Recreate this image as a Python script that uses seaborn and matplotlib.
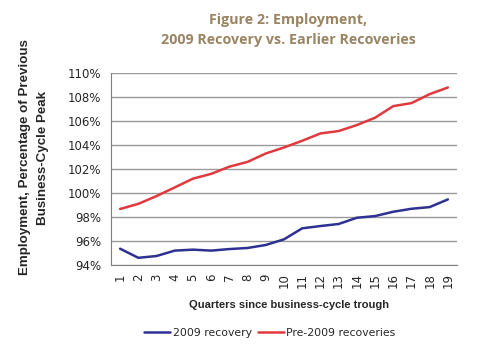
import matplotlib
matplotlib.use("Agg")
import matplotlib.pyplot as plt
import seaborn as sns
import pandas as pd

quarters = list(range(1, 20))
recovery_2009 = [95.36, 94.60, 94.75, 95.20, 95.28, 95.20, 95.33, 95.42, 95.67, 96.14,
                 97.06, 97.25, 97.42, 97.94, 98.08, 98.44, 98.69, 98.83, 99.47]
pre_2009 = [98.67, 99.10, 99.75, 100.47, 101.20, 101.60, 102.20, 102.60, 103.30, 103.80,
            104.36, 104.97, 105.17, 105.67, 106.28, 107.25, 107.50, 108.25, 108.80]
series_names = ["2009 recovery", "Pre-2009 recoveries"]
y_ticks = [94, 96, 98, 100, 102, 104, 106, 108, 110]

df = pd.DataFrame({
    "quarter": quarters * 2,
    "value": recovery_2009 + pre_2009,
    "series": [series_names[0]] * len(quarters) + [series_names[1]] * len(quarters),
})
# position on a categorical axis (0..18)
df["pos"] = df["quarter"] - 1

sns.set_style("white")
plt.rcParams["font.family"] = ["DejaVu Sans"]

fig = plt.figure(figsize=(5, 3.55), dpi=100)
ax = fig.add_axes([0.222, 0.2535, 0.692, 0.5405])

sns.lineplot(data=df, x="pos", y="value", hue="series", ax=ax,
             palette={series_names[0]: "#2e3192", series_names[1]: "#e0393e"},
             linewidth=1.8, legend=False)

ax.set_xlim(-0.5, len(quarters) - 0.5)
ax.set_ylim(94, 110)
ax.set_yticks(y_ticks)
ax.set_yticklabels([f"{t}%" for t in y_ticks], fontsize=8.5)
ax.set_xticks([q - 1 for q in quarters])
ax.set_xticklabels([str(q) for q in quarters], rotation=90, fontsize=8.5)
# tick marks at category boundaries
ax.set_xticks([i - 0.5 for i in range(len(quarters) + 1)], minor=True)
ax.tick_params(axis="x", which="major", length=0, pad=6)
ax.tick_params(axis="x", which="minor", length=4, color="#808080", width=0.8)
ax.tick_params(axis="y", length=4, color="#808080", width=0.8, pad=3)

ax.yaxis.grid(True, color="#999999", linewidth=1.0)
ax.set_axisbelow(True)
for s in ["top", "right"]:
    ax.spines[s].set_visible(False)
for s in ["left", "bottom"]:
    ax.spines[s].set_color("#808080")
    ax.spines[s].set_linewidth(0.8)

ax.set_xlabel("Quarters since business-cycle trough", fontsize=8,
              fontweight="bold", family=["Liberation Sans", "DejaVu Sans"])
ax.xaxis.set_label_coords(0.515, -0.18)
ax.set_ylabel("Employment, Percentage of Previous\nBusiness-Cycle Peak",
              fontsize=9.6, fontweight="bold", linespacing=1.75,
              family=["Liberation Sans", "DejaVu Sans"])
ax.yaxis.set_label_coords(-0.178, 0.56)

fig.text(0.577, 0.915, "Figure 2: Employment,\n2009 Recovery vs. Earlier Recoveries",
         ha="center", va="center", fontsize=10.3, fontweight="bold",
         color="#9a8462", family=["Open Sans", "DejaVu Sans"], linespacing=1.5)

handles = [plt.Line2D([], [], color="#2e3192", lw=1.8),
           plt.Line2D([], [], color="#e0393e", lw=1.8)]
fig.legend(handles, series_names, loc="center", bbox_to_anchor=(0.54, 0.062),
           ncol=2, frameon=False, fontsize=7.8, handlelength=2.4,
           handletextpad=0.2, columnspacing=0.6)

fig.savefig("out.png", dpi=100, facecolor="white")
